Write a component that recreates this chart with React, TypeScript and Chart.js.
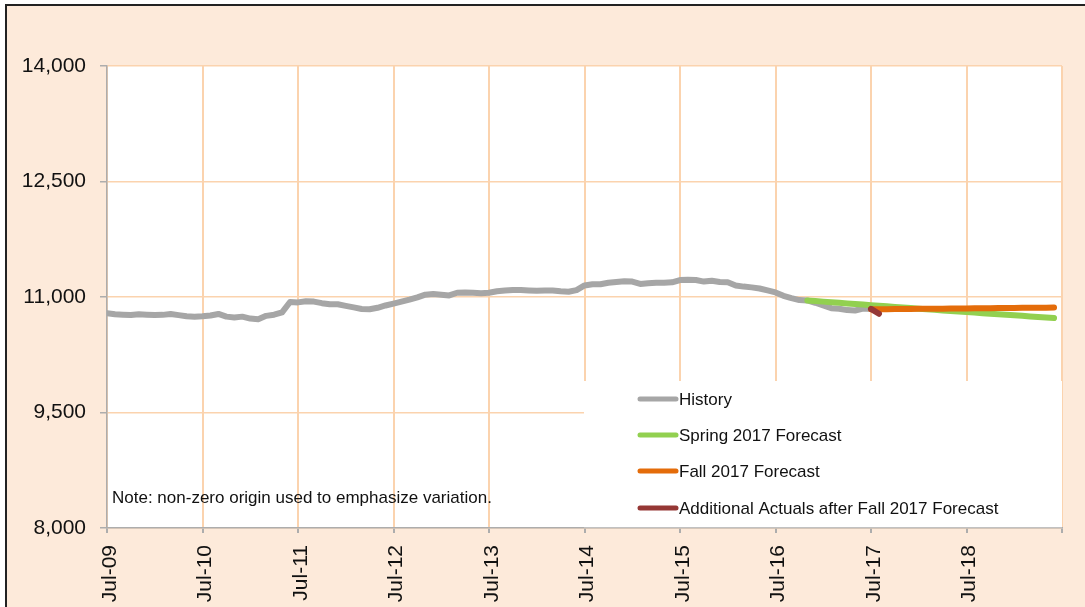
import React, { useEffect, useRef } from 'react';
import { Chart, registerables } from 'chart.js';

Chart.register(...registerables);

const FONT = '"Liberation Sans", Arial, sans-serif';

// Tick labels (one per July, month index 0 = Jul-09)
const yearLabels = ['Jul-09', 'Jul-10', 'Jul-11', 'Jul-12', 'Jul-13', 'Jul-14', 'Jul-15', 'Jul-16', 'Jul-17', 'Jul-18'];
const yTicks = [8000, 9500, 11000, 12500, 14000];

// Monthly series (first value at the given month index)
const historyStart = 0;
const historyValues = [
  10790, 10775, 10770, 10765, 10775, 10770, 10765, 10768, 10780, 10765, 10750, 10745,
  10750, 10760, 10780, 10745, 10735, 10745, 10720, 10710, 10755, 10770, 10800, 10935,
  10930, 10945, 10940, 10920, 10905, 10905, 10885, 10865, 10845, 10840, 10860, 10890,
  10915, 10940, 10965, 10995, 11030, 11040, 11030, 11020, 11055, 11060, 11055, 11050,
  11055, 11075, 11085, 11092, 11092, 11085, 11080, 11085, 11085, 11075, 11068, 11090,
  11150, 11165, 11165, 11185, 11195, 11205, 11200, 11170, 11180, 11185, 11185, 11190,
  11220, 11225, 11220, 11200, 11212, 11195, 11192, 11150, 11135, 11125, 11110, 11085,
  11060, 11015, 10985, 10960, 10955, 10925, 10890, 10855, 10848, 10830, 10825, 10850,
  10845,
];

const springStart = 88;
const springValues = [
  10955, 10948, 10940, 10933, 10925, 10917, 10909, 10902, 10894, 10886, 10879, 10871,
  10863, 10856, 10848, 10841, 10833, 10826, 10818, 10811, 10804, 10797, 10790, 10783,
  10776, 10769, 10762, 10755, 10748, 10741, 10734, 10727,
];

const fallStart = 96;
const fallValues = [
  10840, 10841, 10842, 10843, 10844, 10845, 10846, 10847, 10848, 10849, 10850, 10851,
  10852, 10853, 10854, 10855, 10856, 10857, 10858, 10859, 10860, 10861, 10862, 10864,
];

const additionalStart = 96;
const additionalValues = [10845, 10782];

const toPoints = (start: number, vals: number[]) => vals.map((v, i) => ({ x: start + i, y: v }));

const BG = '#FDEADA';
const GRID = '#FBD3AE';
const AXIS = '#ADADAD';

const framePlugin = {
  id: 'frame',
  beforeDraw(chart: any) {
    const { ctx, chartArea: a, width, height } = chart;
    ctx.save();
    ctx.fillStyle = '#ffffff';
    ctx.fillRect(0, 0, width, height);
    ctx.fillStyle = BG;
    ctx.fillRect(6, 5, width, height);
    ctx.fillStyle = '#222222';
    ctx.fillRect(5, 4, width, 2);
    ctx.fillRect(5, 4, 2, height);
    ctx.fillStyle = '#ffffff';
    ctx.fillRect(a.left, a.top, a.right - a.left, a.bottom - a.top);
    ctx.restore();
  },
};

const overlayPlugin = {
  id: 'overlay',
  beforeDatasetsDraw(chart: any) {
    const { ctx, chartArea: a } = chart;
    ctx.save();
    // legend box
    ctx.fillStyle = '#ffffff';
    ctx.fillRect(584, 381, a.right - 584, a.bottom - 381 - 0.75);
    const ys = [399, 435, 471, 508];
    chart.data.datasets.forEach((ds: any, i: number) => {
      const y = ys[i];
      ctx.strokeStyle = ds.borderColor;
      ctx.lineWidth = 5;
      ctx.lineCap = 'round';
      ctx.beginPath();
      ctx.moveTo(640, y);
      ctx.lineTo(676, y);
      ctx.stroke();
      ctx.fillStyle = '#111111';
      ctx.font = `17px ${FONT}`;
      ctx.textBaseline = 'middle';
      ctx.textAlign = 'left';
      ctx.fillText(ds.label, 679, y + 1);
    });
    // note
    ctx.fillStyle = '#111111';
    ctx.font = `17px ${FONT}`;
    ctx.textBaseline = 'middle';
    ctx.textAlign = 'left';
    ctx.fillText('Note: non-zero origin used to emphasize variation.', 112, 498);
    ctx.restore();
  },
};

export default function App() {
  const ref = useRef<HTMLCanvasElement | null>(null);

  useEffect(() => {
    if (!ref.current) return;
    const common = {
      borderWidth: 6,
      pointRadius: 0,
      pointHoverRadius: 0,
      tension: 0,
      borderCapStyle: 'round',
      borderJoinStyle: 'round',
      fill: false,
    };
    const chart = new Chart(ref.current, {
      type: 'line',
      data: {
        datasets: [
          { ...common, label: 'History', data: toPoints(historyStart, historyValues), borderColor: '#A6A6A6', order: 4 },
          { ...common, label: 'Spring 2017 Forecast', data: toPoints(springStart, springValues), borderColor: '#92D050', order: 3 },
          { ...common, label: 'Fall 2017 Forecast', data: toPoints(fallStart, fallValues), borderColor: '#E46C0A', order: 2 },
          { ...common, label: 'Additional Actuals after Fall 2017 Forecast', data: toPoints(additionalStart, additionalValues), borderColor: '#953735', order: 1 },
        ] as any,
      },
      options: {
        responsive: false,
        animation: false,
        devicePixelRatio: 1,
        layout: { padding: { left: 0, top: 66, right: 23, bottom: 0 } },
        plugins: { legend: { display: false }, tooltip: { enabled: false }, title: { display: false } },
        scales: {
          x: {
            type: 'linear',
            min: 0,
            max: 120,
            afterFit: (s: any) => { s.height = 79; s.paddingLeft = 0; s.paddingRight = 0; },
            afterBuildTicks: (s: any) => { s.ticks = yearLabels.map((_, i) => ({ value: i * 12 })).concat([{ value: 120 }]); },
            ticks: {
              autoSkip: false,
              stepSize: 12,
              minRotation: 90,
              maxRotation: 90,
              padding: 12,
              labelOffset: 3,
              color: '#111111',
              font: { family: FONT, size: 21 },
              callback: (v: any) => (v % 12 === 0 && v / 12 < yearLabels.length ? yearLabels[v / 12] : ''),
            },
            grid: { color: GRID, lineWidth: 2, tickLength: 5, tickColor: AXIS, drawTicks: true },
            border: { display: true, color: AXIS, width: 1.5 },
          },
          y: {
            type: 'linear',
            min: 8000,
            max: 14000,
            afterFit: (s: any) => { s.width = 107; s.paddingTop = 0; s.paddingBottom = 0; },
            afterBuildTicks: (s: any) => { s.ticks = yTicks.map((v) => ({ value: v })); },
            ticks: {
              stepSize: 1500,
              padding: 14,
              color: '#111111',
              font: { family: FONT, size: 21 },
              callback: (v: any) => Number(v).toLocaleString('en-US'),
            },
            grid: { color: GRID, lineWidth: 1.5, tickLength: 7, tickColor: AXIS },
            border: { display: true, color: AXIS, width: 1.5 },
          },
        },
      } as any,
      plugins: [framePlugin, overlayPlugin],
    });
    return () => chart.destroy();
  }, []);

  return (
    <div style={{ position: 'fixed', left: 0, top: 0, width: 1085, height: 607, overflow: 'hidden', background: '#fff' }}>
      <canvas ref={ref} width={1085} height={607} style={{ display: 'block', width: 1085, height: 607 }} />
    </div>
  );
}
